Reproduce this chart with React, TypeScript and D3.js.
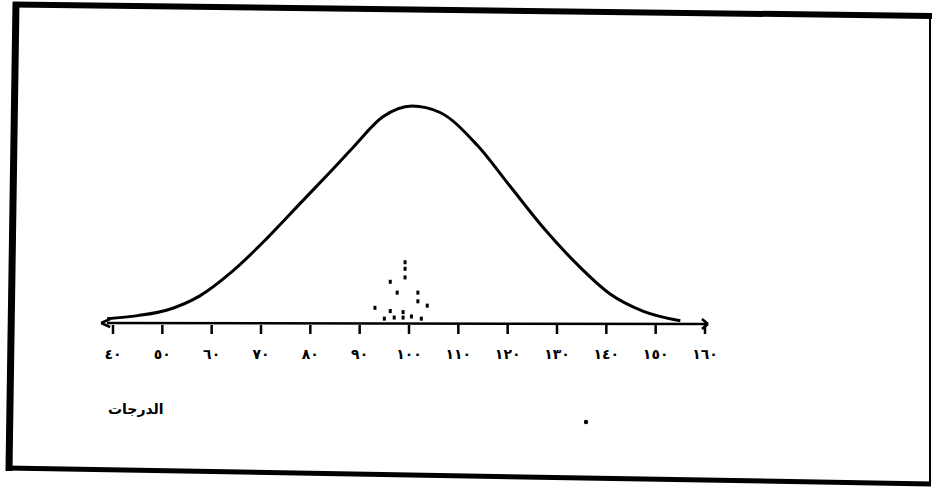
import React from "react";
import * as d3 from "d3";

// Scores on the x axis (tick values) and their Arabic-Indic labels
const tickValues = [40, 50, 60, 70, 80, 90, 100, 110, 120, 130, 140, 150, 160];
const tickLabels = ["٤٠", "٥٠", "٦٠", "٧٠", "٨٠", "٩٠", "١٠٠", "١١٠", "١٢٠", "١٣٠", "١٤٠", "١٥٠", "١٦٠"];

// Normal curve: score vs. height (% of peak)
const curveScores = [38.8, 45, 51, 57.6, 64.3, 71.2, 77.9, 84.6, 88.7, 94.7, 100.6, 106.3, 113.8, 120.5, 127.2, 134.1, 140.7, 147.4, 155];
const curveHeights = [2, 3.4, 6, 12.5, 24, 39, 55, 71, 81, 95, 100, 97, 82, 63, 44, 27, 13.5, 5.5, 1];

// Small scattered marks near the centre
const markScores = [99.2, 99.2, 99.2, 96.2, 97.6, 101.8, 101.8, 93.1, 96.2, 98.8, 98.8, 103.7, 95, 97, 100.5, 102.5];
const markHeights = [28, 25, 21, 19, 14, 14, 10, 7, 5.5, 5, 2.5, 8, 2, 2.5, 3, 2];

const axisTitle = "الدرجات";

export default function App() {
  const x = d3.scaleLinear().domain([40, 160]).range([113, 705]);
  const y = d3.scaleLinear().domain([0, 100]).range([323, 106]);
  const pts: [number, number][] = curveScores.map((s, i) => [s, curveHeights[i]]);
  const line = d3
    .line<[number, number]>()
    .x((d) => x(d[0]))
    .y((d) => y(d[1]))
    .curve(d3.curveMonotoneX);
  const baseY = y(0);
  const font = "'DejaVu Sans', sans-serif";
  return (
    <svg
      width={933}
      height={489}
      style={{ position: "absolute", left: 0, top: 0, background: "#fff" }}
    >
      {/* scanned frame */}
      <line x1={13} y1={4.5} x2={932} y2={16} stroke="#000" strokeWidth={6} />
      <line x1={16} y1={2} x2={9} y2={471} stroke="#000" strokeWidth={7} />
      <line x1={6} y1={468} x2={931} y2={484} stroke="#000" strokeWidth={5} />
      <line x1={930} y1={14} x2={930} y2={486} stroke="#000" strokeWidth={2} />

      {/* baseline with arrowheads */}
      <line x1={107} y1={baseY} x2={708} y2={baseY + 1} stroke="#000" strokeWidth={2.5} />
      <path
        d={`M${x(38) - 2},${baseY} l9,-4 M${x(38) - 2},${baseY} l9,4`}
        stroke="#000"
        strokeWidth={2.5}
        fill="none"
      />
      <path
        d={`M${708},${baseY + 1} l-6,-5 M${708},${baseY + 1} l-6,5`}
        stroke="#000"
        strokeWidth={2.5}
        fill="none"
      />

      {/* ticks and labels */}
      {tickValues.map((v, i) => (
        <g key={v}>
          <line x1={x(v)} y1={baseY + 2} x2={x(v)} y2={baseY + 11} stroke="#000" strokeWidth={2.5} />
          <text
            x={x(v)}
            y={baseY + 36}
            textAnchor="middle"
            fontFamily={font}
            fontWeight="bold"
            fontSize={14}
            fill="#000"
          >
            {tickLabels[i]}
          </text>
        </g>
      ))}

      {/* normal curve */}
      <path d={line(pts) || ""} fill="none" stroke="#000" strokeWidth={3} />

      {/* scattered marks */}
      {markScores.map((s, i) => (
        <rect
          key={i}
          x={x(s) - 1.5}
          y={y(markHeights[i]) - 2}
          width={3}
          height={4}
          fill="#000"
        />
      ))}

      {/* axis title */}
      <text
        x={108}
        y={414}
        textAnchor="start"
        fontFamily={font}
        fontWeight="bold"
        fontSize={14}
        fill="#000"
      >
        {axisTitle}
      </text>

      {/* stray dot */}
      <circle cx={586} cy={422} r={2.2} fill="#000" />
    </svg>
  );
}
